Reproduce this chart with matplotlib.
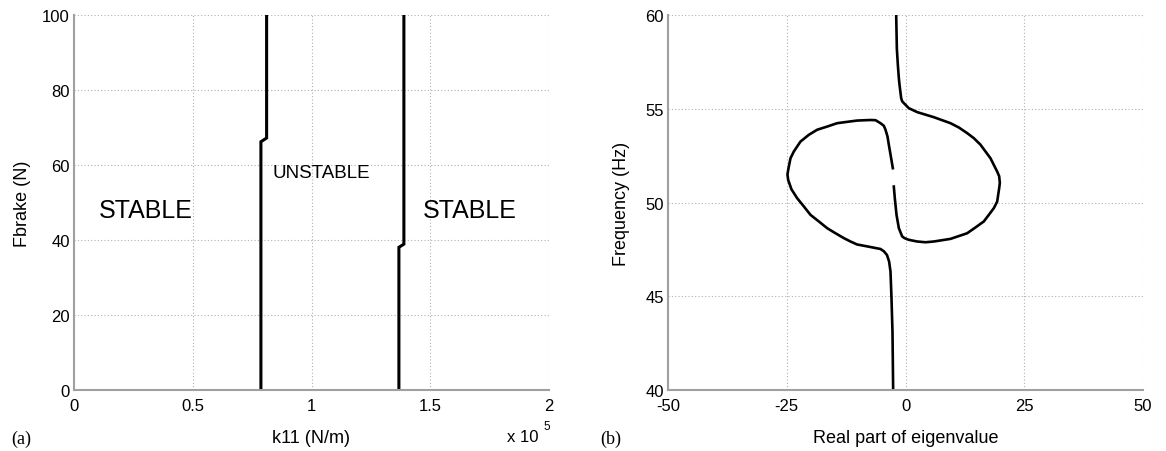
import matplotlib
matplotlib.use("Agg")
import matplotlib.pyplot as plt

# ---- Data: panel (a) stability boundaries ----
k11_boundary1 = [0.787e5, 0.787e5, 0.811e5, 0.811e5]
fbrake_boundary1 = [0, 66.2, 67.2, 100]
k11_boundary2 = [1.368e5, 1.368e5, 1.389e5, 1.389e5]
fbrake_boundary2 = [0, 38.05, 38.9, 100]

region_labels = ["STABLE", "UNSTABLE", "STABLE"]
region_x = [0.30e5, 1.04e5, 1.667e5]
region_y = [48, 58, 48]

# ---- Data: panel (b) root locus branches ----
branchA_re = [-1.96, -1.82, -1.61, -1.40, -1.26, -0.91, -0.70, -0.35, 0.70, 2.46, 5.96,
              9.47, 11.23, 12.98, 14.39, 15.79, 17.89, 18.60, 19.30, 19.72, 19.86, 19.72,
              19.30, 18.60, 17.54, 16.49, 14.74, 12.98, 9.47, 5.96, 4.21, 2.46, 0.70,
              -0.21, -0.70, -1.40, -1.89, -2.25, -2.46]
branchA_freq = [60.0, 58.2, 57.34, 56.63, 56.28, 55.56, 55.40, 55.30, 55.03, 54.82, 54.55,
                54.23, 54.0, 53.70, 53.43, 53.08, 52.36, 52.0, 51.65, 51.40, 51.05, 50.76,
                50.05, 49.70, 49.34, 48.99, 48.67, 48.36, 48.06, 47.92, 47.88, 47.92, 48.01,
                48.10, 48.19, 48.63, 49.34, 50.23, 50.85]
branchB_re = [-2.60, -2.74, -2.95, -3.16, -3.45, -3.90, -4.56, -5.26, -8.07, -10.18, -11.58,
              -12.98, -14.74, -16.49, -18.25, -20.0, -21.40, -22.81, -24.0, -24.70, -24.85,
              -24.63, -24.21, -23.51, -22.11, -20.35, -18.60, -16.49, -14.39, -11.72, -10.18,
              -7.37, -6.32, -5.26, -4.56, -4.21, -3.79, -3.51, -3.02, -2.67]
branchB_freq = [40.0, 43.12, 44.90, 46.32, 46.85, 47.20, 47.40, 47.52, 47.66, 47.76, 47.92,
                48.10, 48.36, 48.63, 48.99, 49.34, 49.79, 50.23, 50.70, 51.20, 51.50,
                51.83, 52.36, 52.72, 53.25, 53.61, 53.88, 54.05, 54.23, 54.32, 54.37,
                54.40, 54.39, 54.23, 54.09, 53.88, 53.52, 53.08, 52.36, 51.83]

a_xticks = [0, 0.5e5, 1e5, 1.5e5, 2e5]
a_xticklabels = ["0", "0.5", "1", "1.5", "2"]
a_yticks = [0, 20, 40, 60, 80, 100]
b_xticks = [-50, -25, 0, 25, 50]
b_yticks = [40, 45, 50, 55, 60]

plt.rcParams['font.family'] = ['Liberation Sans', 'DejaVu Sans']
plt.rcParams['axes.unicode_minus'] = False

W, H = 1166, 452
fig = plt.figure(figsize=(W / 100, H / 100), dpi=100)

def px_axes(l, t, r, b):
    return fig.add_axes([l / W, 1 - b / H, (r - l) / W, (b - t) / H])

ax1 = px_axes(74, 16, 549, 391)
ax2 = px_axes(668, 16, 1143, 391)

def style(ax):
    for s in ['top', 'right']:
        ax.spines[s].set_visible(False)
    for s in ['left', 'bottom']:
        ax.spines[s].set_color('#a0a0a0')
        ax.spines[s].set_linewidth(1.5)
    ax.grid(True, linestyle=(0, (1, 2)), color='#b0b0b0', linewidth=0.8)
    ax.set_axisbelow(True)
    ax.tick_params(axis='both', length=0, labelsize=12)
    ax.tick_params(axis='x', pad=6)
    ax.tick_params(axis='y', pad=3)

# Panel (a)
ax1.plot(k11_boundary1, fbrake_boundary1, color='black', lw=2.2, solid_joinstyle='miter')
ax1.plot(k11_boundary2, fbrake_boundary2, color='black', lw=2.2, solid_joinstyle='miter')
for lab, x, y in zip(region_labels, region_x, region_y):
    ax1.text(x, y, lab, ha='center', va='center',
             fontsize=18 if lab == "STABLE" else 13.5)
ax1.set_xlim(0, 2e5)
ax1.set_ylim(0, 100)
ax1.set_xticks(a_xticks)
ax1.set_xticklabels(a_xticklabels)
ax1.set_yticks(a_yticks)
style(ax1)
ax1.set_xlabel("k11 (N/m)", fontsize=13)
ax1.set_ylabel("Fbrake (N)", fontsize=13)
ax1.xaxis.set_label_coords(0.5, -0.105)
ax1.yaxis.set_label_coords(-0.09, 0.5)
fig.text(507 / W, 1 - 442 / H, "x 10", fontsize=12, ha='left', va='baseline')
fig.text(543 / W, 1 - 430 / H, "5", fontsize=8.5, ha='left', va='baseline')

# Panel (b)
ax2.plot(branchA_re, branchA_freq, color='black', lw=1.9, solid_joinstyle='round')
ax2.plot(branchB_re, branchB_freq, color='black', lw=1.9, solid_joinstyle='round')
ax2.set_xlim(-50, 50)
ax2.set_ylim(40, 60)
ax2.set_xticks(b_xticks)
ax2.set_yticks(b_yticks)
style(ax2)
ax2.set_xlabel("Real part of eigenvalue", fontsize=13)
ax2.set_ylabel("Frequency (Hz)", fontsize=13)
ax2.xaxis.set_label_coords(0.5, -0.105)
ax2.yaxis.set_label_coords(-0.08, 0.5)

fig.text(11 / W, 1 - 439 / H, "(a)", fontsize=13, family=['Liberation Serif', 'DejaVu Serif'],
         ha='left', va='center')
fig.text(600 / W, 1 - 439 / H, "(b)", fontsize=13, family=['Liberation Serif', 'DejaVu Serif'],
         ha='left', va='center')

fig.savefig("out.png", dpi=100)
